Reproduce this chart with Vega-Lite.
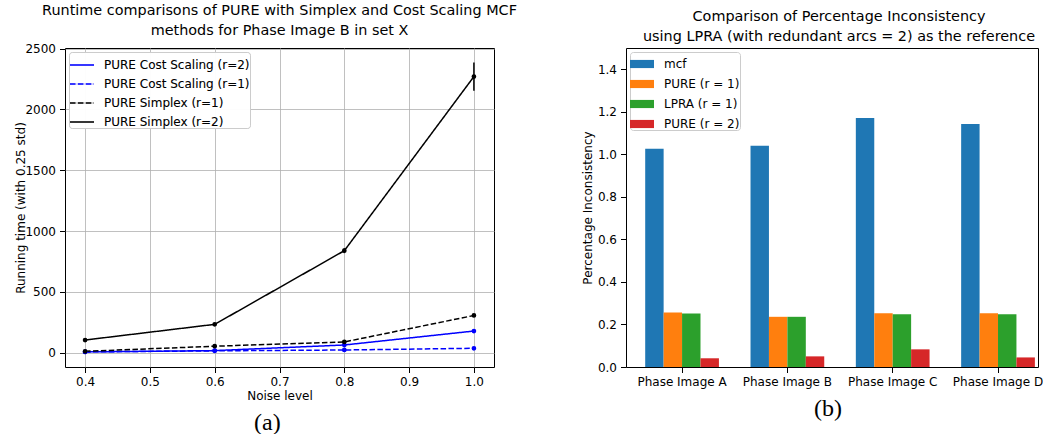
{
  "$schema": "https://vega.github.io/schema/vega-lite/v6.json",
  "padding": {"left": 14, "top": 2, "right": 0, "bottom": 0},
  "background": "white",
  "config": {
    "font": "DejaVu Sans",
    "view": {"stroke": "black", "strokeWidth": 1},
    "axis": {"domain": false, "ticks": true, "tickColor": "black", "tickSize": 5.5, "tickWidth": 1, "labelColor": "black", "labelFontSize": 12, "labelPadding": 4, "titleFontSize": 12, "titleFontWeight": "normal", "titleColor": "black", "grid": false, "labelFont": "DejaVu Sans", "titleFont": "DejaVu Sans"},
    "axisX": {"titlePadding": 3},
    "axisY": {"titlePadding": 2},
    "title": {"font": "DejaVu Sans", "fontSize": 14.4, "fontWeight": "normal", "color": "black", "lineHeight": 20},
    "legend": {"labelFont": "DejaVu Sans", "labelFontSize": 12, "labelColor": "black", "strokeColor": "#cccccc", "fillColor": "rgba(255,255,255,0.8)", "cornerRadius": 3}
  },
  "spacing": 62,
  "resolve": {"scale": {"color": "independent", "x": "independent", "y": "independent"}, "legend": {"color": "independent"}},
  "hconcat": [
    {
      "title": {"text": "(a)", "orient": "bottom", "font": "Liberation Serif", "fontSize": 24, "dx": 1.5, "offset": 9, "anchor": "middle"},
      "vconcat": [
        {
          "width": 429,
          "height": 319,
          "title": {"text": ["Runtime comparisons of PURE with Simplex and Cost Scaling MCF", "methods for Phase Image B in set X"], "offset": 4, "anchor": "middle"},
          "data": {"values": [
            {"method": "PURE Cost Scaling (r=2)", "noise": 0.4, "time": 5, "lo": 3, "hi": 7},
            {"method": "PURE Cost Scaling (r=2)", "noise": 0.6, "time": 16, "lo": 14, "hi": 18},
            {"method": "PURE Cost Scaling (r=2)", "noise": 0.8, "time": 62, "lo": 58, "hi": 66},
            {"method": "PURE Cost Scaling (r=2)", "noise": 1.0, "time": 177, "lo": 171, "hi": 183},
            {"method": "PURE Cost Scaling (r=1)", "noise": 0.4, "time": 5, "lo": 4, "hi": 6},
            {"method": "PURE Cost Scaling (r=1)", "noise": 0.6, "time": 14, "lo": 12, "hi": 16},
            {"method": "PURE Cost Scaling (r=1)", "noise": 0.8, "time": 21, "lo": 19, "hi": 23},
            {"method": "PURE Cost Scaling (r=1)", "noise": 1.0, "time": 35, "lo": 33, "hi": 37},
            {"method": "PURE Simplex (r=1)", "noise": 0.4, "time": 10, "lo": 8, "hi": 12},
            {"method": "PURE Simplex (r=1)", "noise": 0.6, "time": 52, "lo": 49, "hi": 55},
            {"method": "PURE Simplex (r=1)", "noise": 0.8, "time": 87, "lo": 82, "hi": 92},
            {"method": "PURE Simplex (r=1)", "noise": 1.0, "time": 305, "lo": 295, "hi": 315},
            {"method": "PURE Simplex (r=2)", "noise": 0.4, "time": 103, "lo": 98, "hi": 108},
            {"method": "PURE Simplex (r=2)", "noise": 0.6, "time": 232, "lo": 224, "hi": 240},
            {"method": "PURE Simplex (r=2)", "noise": 0.8, "time": 838, "lo": 818, "hi": 858},
            {"method": "PURE Simplex (r=2)", "noise": 1.0, "time": 2271, "lo": 2155, "hi": 2387}
          ]},
          "encoding": {
            "x": {"field": "noise", "type": "quantitative", "scale": {"domain": [0.369, 1.031], "nice": false, "zero": false}, "axis": {"values": [0.4, 0.5, 0.6, 0.7, 0.8, 0.9, 1.0], "format": ".1f", "title": "Noise level", "grid": true, "gridColor": "#b0b0b0", "gridWidth": 0.8}},
            "y": {"field": "time", "type": "quantitative", "scale": {"domain": [-119, 2506], "nice": false, "zero": false}, "axis": {"values": [0, 500, 1000, 1500, 2000, 2500], "format": "d", "title": "Running time (with 0.25 std)", "titlePadding": -3, "grid": true, "gridColor": "#b0b0b0", "gridWidth": 0.8}},
            "color": {"field": "method", "type": "nominal", "scale": {"domain": ["PURE Cost Scaling (r=2)", "PURE Cost Scaling (r=1)", "PURE Simplex (r=1)", "PURE Simplex (r=2)"], "range": ["#0000ff", "#0000ff", "#000000", "#000000"]}, "legend": {"title": null, "orient": "top-left", "offset": 4, "padding": 0, "symbolType": "stroke", "symbolSize": 576, "symbolStrokeWidth": 1.5, "rowPadding": 0, "labelOffset": 9, "encode": {"symbols": {"update": {"stroke": {"signal": "indexof(datum.value, 'Cost') >= 0 ? '#0000ff' : '#000000'"}}}}}}
          },
          "layer": [
            {"mark": {"type": "line", "strokeWidth": 1.5}, "encoding": {"strokeDash": {"field": "method", "type": "nominal", "scale": {"domain": ["PURE Cost Scaling (r=2)", "PURE Cost Scaling (r=1)", "PURE Simplex (r=1)", "PURE Simplex (r=2)"], "range": [[1, 0], [5.5, 2.4], [5.5, 2.4], [1, 0]]}, "legend": {"title": null, "orient": "top-left", "offset": 4, "padding": 0, "symbolType": "stroke", "symbolSize": 576, "symbolStrokeWidth": 1.5, "rowPadding": 0, "labelOffset": 9, "encode": {"symbols": {"update": {"stroke": {"signal": "indexof(datum.value, 'Cost') >= 0 ? '#0000ff' : '#000000'"}}}}}}}},
            {"mark": {"type": "rule", "strokeWidth": 1.5}, "encoding": {"y": {"field": "lo", "type": "quantitative", "title": "Running time (with 0.25 std)"}, "y2": {"field": "hi"}}},
            {"mark": {"type": "point", "filled": false, "size": 5, "strokeWidth": 2.5, "opacity": 1}}
          ]
        }
      ]
    },
    {
      "title": {"text": "(b)", "orient": "bottom", "font": "Liberation Serif", "fontSize": 24, "dx": 16, "offset": 9, "anchor": "middle"},
      "vconcat": [
        {
          "width": 412,
          "height": 319,
          "title": {"text": ["Comparison of Percentage Inconsistency", "using LPRA (with redundant arcs = 2) as the reference"], "offset": 4, "dx": 7, "anchor": "middle"},
          "data": {"values": [
            {"image": "Phase Image A", "method": "mcf", "value": 1.026},
            {"image": "Phase Image A", "method": "PURE (r = 1)", "value": 0.256},
            {"image": "Phase Image A", "method": "LPRA (r = 1)", "value": 0.251},
            {"image": "Phase Image A", "method": "PURE (r = 2)", "value": 0.041},
            {"image": "Phase Image B", "method": "mcf", "value": 1.04},
            {"image": "Phase Image B", "method": "PURE (r = 1)", "value": 0.236},
            {"image": "Phase Image B", "method": "LPRA (r = 1)", "value": 0.236},
            {"image": "Phase Image B", "method": "PURE (r = 2)", "value": 0.05},
            {"image": "Phase Image C", "method": "mcf", "value": 1.171},
            {"image": "Phase Image C", "method": "PURE (r = 1)", "value": 0.253},
            {"image": "Phase Image C", "method": "LPRA (r = 1)", "value": 0.248},
            {"image": "Phase Image C", "method": "PURE (r = 2)", "value": 0.083},
            {"image": "Phase Image D", "method": "mcf", "value": 1.143},
            {"image": "Phase Image D", "method": "PURE (r = 1)", "value": 0.253},
            {"image": "Phase Image D", "method": "LPRA (r = 1)", "value": 0.248},
            {"image": "Phase Image D", "method": "PURE (r = 2)", "value": 0.045}
          ]},
          "mark": {"type": "bar"},
          "encoding": {
            "x": {"field": "image", "type": "nominal", "scale": {"paddingInner": 0.3, "paddingOuter": 0.106, "align": 0.86}, "axis": {"labelAngle": 0, "title": null}},
            "xOffset": {"field": "method", "type": "nominal", "scale": {"domain": ["mcf", "PURE (r = 1)", "LPRA (r = 1)", "PURE (r = 2)"], "paddingInner": 0, "paddingOuter": 0}},
            "y": {"field": "value", "type": "quantitative", "scale": {"domain": [0, 1.5], "nice": false, "zero": true}, "axis": {"values": [0, 0.2, 0.4, 0.6, 0.8, 1.0, 1.2, 1.4], "format": ".1f", "title": "Percentage Inconsistency", "titlePadding": 3}},
            "color": {"field": "method", "type": "nominal", "scale": {"domain": ["mcf", "PURE (r = 1)", "LPRA (r = 1)", "PURE (r = 2)"], "range": ["#1f77b4", "#ff7f0e", "#2ca02c", "#d62728"]}, "legend": {"title": null, "orient": "top-left", "offset": 4, "padding": 0, "symbolType": "M-1,-0.34H1V0.34H-1Z", "symbolSize": 576, "symbolStrokeWidth": 0, "symbolOpacity": 1, "rowPadding": 2, "labelOffset": 10}}
          }
        }
      ]
    }
  ]
}
